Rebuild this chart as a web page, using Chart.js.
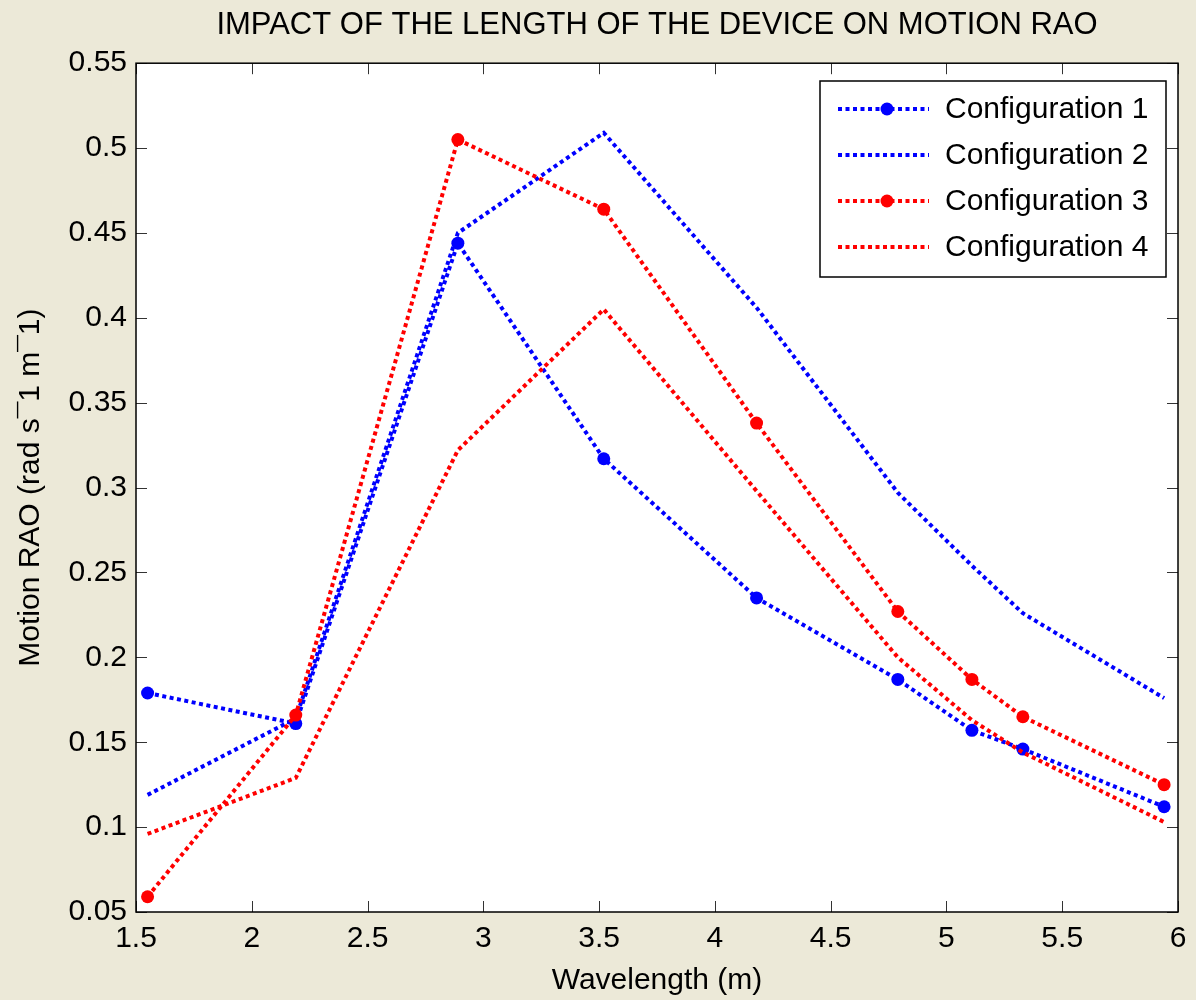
<!DOCTYPE html>
<html>
<head>
<meta charset="utf-8">
<script src="https://cdn.jsdelivr.net/npm/chart.js@4/dist/chart.umd.min.js"></script>
<style>
  html, body { margin: 0; padding: 0; background: #ECE9D8; }
  #wrap { width: 1196px; height: 1000px; }
</style>
</head>
<body>
<div id="wrap"><canvas id="raoChart" width="1196" height="1000"></canvas></div>
<script>
// values
const wavelengths = [1.55, 2.19, 2.89, 3.52, 4.18, 4.79, 5.11, 5.33, 5.94];
const config1 = [0.179, 0.161, 0.444, 0.317, 0.235, 0.187, 0.157, 0.146, 0.112];
const config2 = [0.119, 0.164, 0.450, 0.509, 0.406, 0.297, 0.254, 0.226, 0.176];
const config3 = [0.059, 0.166, 0.505, 0.464, 0.338, 0.227, 0.187, 0.165, 0.125];
const config4 = [0.096, 0.129, 0.322, 0.405, 0.298, 0.200, 0.163, 0.144, 0.103];
const seriesNames = ['Configuration 1', 'Configuration 2', 'Configuration 3', 'Configuration 4'];
const xTicks = [1.5, 2, 2.5, 3, 3.5, 4, 4.5, 5, 5.5, 6];
const yTicks = [0.05, 0.1, 0.15, 0.2, 0.25, 0.3, 0.35, 0.4, 0.45, 0.5, 0.55];

const FONT = '"Liberation Sans", Arial, Helvetica, sans-serif';
const BLUE = '#0000FF';
const RED = '#FF0000';

function puntos(valores) {
    return wavelengths.map((w, i) => ({ x: w, y: valores[i] }));
}

function serie(nombre, valores, color, radio, orden) {
    return {
        label: nombre,
        data: puntos(valores),
        borderColor: color,
        backgroundColor: color,
        borderWidth: 4,
        borderDash: [4, 3.5],
        borderCapStyle: 'butt',
        tension: 0,
        pointRadius: radio,
        pointBorderWidth: 0,
        pointBackgroundColor: color,
        pointStyle: 'circle',
        order: orden
    };
}

// MATLAB style frame: beige figure, white axes, inside ticks, boxed legend
const marcoMatlab = {
    id: 'marcoMatlab',
    beforeDraw(chart) {
        const ctx = chart.ctx;
        const a = chart.chartArea;
        ctx.save();
        ctx.fillStyle = '#ECE9D8';
        ctx.fillRect(0, 0, chart.width, chart.height);
        ctx.fillStyle = '#FFFFFF';
        ctx.fillRect(a.left, a.top, a.right - a.left, a.bottom - a.top);
        ctx.restore();
    },
    afterDatasetsDraw(chart) {
        const ctx = chart.ctx;
        const a = chart.chartArea;
        const sx = chart.scales.x;
        const sy = chart.scales.y;
        const len = 11;
        ctx.save();
        ctx.strokeStyle = '#333333';
        ctx.lineWidth = 1;
        ctx.beginPath();
        sx.ticks.forEach(t => {
            const px = Math.round(sx.getPixelForValue(t.value)) + 0.5;
            ctx.moveTo(px, a.bottom); ctx.lineTo(px, a.bottom - len);
            ctx.moveTo(px, a.top); ctx.lineTo(px, a.top + len);
        });
        sy.ticks.forEach(t => {
            const py = Math.round(sy.getPixelForValue(t.value)) + 0.5;
            ctx.moveTo(a.left, py); ctx.lineTo(a.left + len, py);
            ctx.moveTo(a.right, py); ctx.lineTo(a.right - len, py);
        });
        ctx.stroke();
        ctx.strokeStyle = '#000000';
        ctx.lineWidth = 1.5;
        ctx.strokeRect(a.left, a.top, a.right - a.left, a.bottom - a.top);
        ctx.restore();
    },
    afterDraw(chart) {
        const ctx = chart.ctx;
        const box = { left: 820, top: 81, width: 346, height: 196 };
        ctx.save();
        ctx.fillStyle = '#FFFFFF';
        ctx.fillRect(box.left, box.top, box.width, box.height);
        ctx.strokeStyle = '#000000';
        ctx.lineWidth = 1.5;
        ctx.strokeRect(box.left, box.top, box.width, box.height);

        ctx.font = '30px ' + FONT;
        ctx.textBaseline = 'middle';
        ctx.textAlign = 'left';
        chart.data.datasets.forEach((ds, i) => {
            const y = 109 + i * 46;
            ctx.strokeStyle = ds.borderColor;
            ctx.lineWidth = ds.borderWidth;
            ctx.setLineDash(ds.borderDash);
            ctx.lineCap = 'butt';
            ctx.beginPath();
            ctx.moveTo(838, y);
            ctx.lineTo(929, y);
            ctx.stroke();
            ctx.setLineDash([]);
            if (ds.pointRadius > 0) {
                ctx.fillStyle = ds.borderColor;
                ctx.beginPath();
                ctx.arc(887, y, ds.pointRadius, 0, Math.PI * 2);
                ctx.fill();
            }
            ctx.fillStyle = '#000000';
            ctx.fillText(ds.label, 945, y + 1);
        });
        ctx.restore();
    }
};

function dibujarGrafico() {
    const ctx = document.getElementById('raoChart').getContext('2d');
    new Chart(ctx, {
        type: 'line',
        data: {
            datasets: [
                serie(seriesNames[0], config1, BLUE, 6.5, 4),
                serie(seriesNames[1], config2, BLUE, 0, 3),
                serie(seriesNames[2], config3, RED, 6.5, 2),
                serie(seriesNames[3], config4, RED, 0, 1)
            ]
        },
        options: {
            responsive: false,
            animation: false,
            devicePixelRatio: 1,
            layout: { padding: { left: 0, right: 18, top: 0, bottom: 0 } },
            plugins: {
                legend: { display: false },
                tooltip: { enabled: false },
                title: {
                    display: true,
                    fullSize: false,
                    text: 'IMPACT OF THE LENGTH OF THE DEVICE ON MOTION RAO',
                    color: '#000000',
                    font: { family: FONT, size: 31, weight: 'normal', lineHeight: 1.2 },
                    padding: { top: 7, bottom: 19 }
                }
            },
            scales: {
                x: {
                    type: 'linear',
                    min: 1.5,
                    max: 6,
                    grid: { display: false, drawTicks: false },
                    border: { display: false },
                    afterBuildTicks: s => { s.ticks = xTicks.map(v => ({ value: v })); },
                    afterFit: s => { s.height = 88; },
                    ticks: {
                        color: '#000000',
                        font: { family: FONT, size: 30 },
                        padding: 9,
                        maxRotation: 0,
                        callback: v => String(+v.toFixed(2))
                    },
                    title: {
                        display: true,
                        text: 'Wavelength (m)',
                        color: '#000000',
                        font: { family: FONT, size: 30 },
                        padding: { top: 0, bottom: 1 }
                    }
                },
                y: {
                    min: 0.05,
                    max: 0.55,
                    grid: { display: false, drawTicks: false },
                    border: { display: false },
                    afterBuildTicks: s => { s.ticks = yTicks.map(v => ({ value: v })); },
                    afterFit: s => { s.width = 136; },
                    ticks: {
                        color: '#000000',
                        font: { family: FONT, size: 30 },
                        padding: 9,
                        callback: v => String(+v.toFixed(2))
                    },
                    title: {
                        display: true,
                        text: 'Motion RAO (rad s\u00AF1 m\u00AF1)',
                        color: '#000000',
                        font: { family: FONT, size: 30 },
                        padding: { top: 13, bottom: 0 }
                    }
                }
            }
        },
        plugins: [marcoMatlab]
    });
}

document.addEventListener('DOMContentLoaded', function() {
    dibujarGrafico();
});
</script>
</body>
</html>
